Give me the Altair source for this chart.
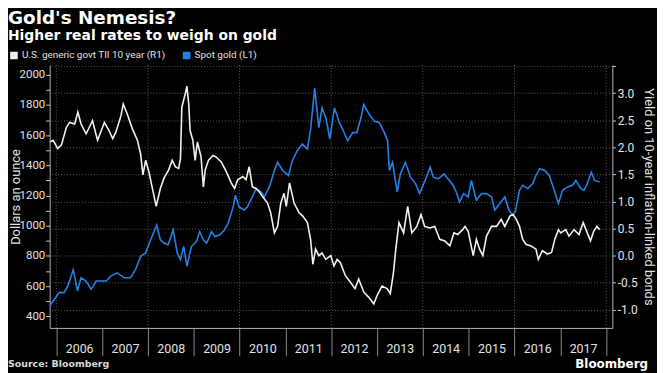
import altair as alt
import pandas as pd

TITLE = "Gold's Nemesis?"
SUBTITLE = "Higher real rates to weigh on gold"
SOURCE = "Source: Bloomberg"
BRAND = "Bloomberg"
SERIES = ["U.S. generic govt TII 10 year (R1)", "Spot gold (L1)"]
COLORS = ["#f2f2f2", "#2381e6"]
LEFT_TITLE = "Dollars an ounce"
RIGHT_TITLE = "Yield on 10-year inflation-linked bonds"

# Spot gold, USD/oz (decimal year, value)
gold_t = [2005.86, 2005.96, 2006.06, 2006.17, 2006.25, 2006.37, 2006.46, 2006.54, 2006.65, 2006.76,
          2006.87, 2006.98, 2007.09, 2007.19, 2007.33, 2007.48, 2007.62, 2007.73, 2007.84, 2007.95,
          2008.06, 2008.19, 2008.27, 2008.35, 2008.44, 2008.55, 2008.64, 2008.71, 2008.78, 2008.85,
          2008.95, 2009.06, 2009.13, 2009.21, 2009.28, 2009.39, 2009.46, 2009.57, 2009.67, 2009.75,
          2009.86, 2009.91, 2009.99, 2010.10, 2010.17, 2010.28, 2010.36, 2010.47, 2010.54, 2010.65,
          2010.76, 2010.83, 2010.94, 2011.07, 2011.15, 2011.26, 2011.37, 2011.48, 2011.55, 2011.64,
          2011.73, 2011.80, 2011.89, 2011.97, 2012.07, 2012.18, 2012.25, 2012.36, 2012.47, 2012.56,
          2012.65, 2012.71, 2012.83, 2012.94, 2013.05, 2013.16, 2013.23, 2013.27, 2013.34, 2013.44,
          2013.51, 2013.62, 2013.73, 2013.84, 2013.93, 2014.05, 2014.16, 2014.23, 2014.34, 2014.46,
          2014.55, 2014.66, 2014.73, 2014.80, 2014.89, 2014.99, 2015.06, 2015.17, 2015.28, 2015.39,
          2015.50, 2015.57, 2015.68, 2015.79, 2015.88, 2015.95, 2016.02, 2016.11, 2016.18, 2016.29,
          2016.40, 2016.47, 2016.55, 2016.66, 2016.76, 2016.87, 2016.96, 2017.05, 2017.16, 2017.27,
          2017.34, 2017.45, 2017.52, 2017.59, 2017.68, 2017.75, 2017.86]
gold_v = [470, 513, 557, 557, 600, 710, 568, 655, 634, 579,
          634, 634, 634, 666, 688, 655, 655, 710, 797, 820,
          907, 1005, 907, 885, 874, 972, 820, 776, 863, 732,
          863, 896, 961, 907, 885, 961, 929, 940, 972, 1016,
          1125, 1202, 1125, 1104, 1125, 1191, 1246, 1224, 1191, 1257,
          1366, 1420, 1366, 1333, 1431, 1497, 1541, 1508, 1639, 1912,
          1650, 1781, 1705, 1574, 1781, 1683, 1639, 1563, 1617, 1617,
          1715, 1803, 1738, 1694, 1683, 1617, 1563, 1366, 1420, 1224,
          1344, 1420, 1322, 1279, 1213, 1300, 1388, 1322, 1311, 1344,
          1311, 1268, 1224, 1158, 1213, 1191, 1300, 1169, 1213, 1213,
          1191, 1104, 1147, 1191, 1104, 1071, 1093, 1235, 1268, 1246,
          1279, 1333, 1377, 1366, 1333, 1235, 1147, 1235, 1257, 1268,
          1300, 1246, 1235, 1279, 1355, 1300, 1289]

# US generic govt TII 10 year, % (decimal year, value)
tii_t = [2005.86, 2005.93, 2006.03, 2006.11, 2006.22, 2006.29, 2006.40, 2006.47, 2006.54, 2006.65,
         2006.72, 2006.79, 2006.90, 2007.05, 2007.15, 2007.23, 2007.30, 2007.41, 2007.46, 2007.55,
         2007.66, 2007.77, 2007.84, 2007.89, 2007.95, 2008.02, 2008.09, 2008.18, 2008.27, 2008.35,
         2008.45, 2008.53, 2008.60, 2008.67, 2008.71, 2008.74, 2008.82, 2008.85, 2008.89, 2008.92,
         2008.98, 2009.03, 2009.08, 2009.16, 2009.21, 2009.25, 2009.32, 2009.42, 2009.49, 2009.60,
         2009.71, 2009.82, 2009.89, 2009.96, 2010.07, 2010.14, 2010.21, 2010.28, 2010.36, 2010.43,
         2010.50, 2010.61, 2010.68, 2010.76, 2010.83, 2010.90, 2010.97, 2011.02, 2011.09, 2011.19,
         2011.30, 2011.38, 2011.48, 2011.55, 2011.60, 2011.66, 2011.73, 2011.80, 2011.88, 2011.99,
         2012.06, 2012.13, 2012.20, 2012.31, 2012.42, 2012.52, 2012.60, 2012.71, 2012.82, 2012.93,
         2013.00, 2013.11, 2013.22, 2013.29, 2013.36, 2013.41, 2013.48, 2013.58, 2013.67, 2013.76,
         2013.87, 2013.96, 2014.04, 2014.15, 2014.26, 2014.37, 2014.48, 2014.59, 2014.68, 2014.76,
         2014.87, 2014.92, 2014.99, 2015.10, 2015.17, 2015.24, 2015.31, 2015.39, 2015.50, 2015.61,
         2015.71, 2015.79, 2015.90, 2015.97, 2016.04, 2016.11, 2016.18, 2016.25, 2016.36, 2016.47,
         2016.52, 2016.61, 2016.72, 2016.81, 2016.88, 2016.96, 2017.01, 2017.12, 2017.19, 2017.30,
         2017.41, 2017.50, 2017.59, 2017.66, 2017.73, 2017.80, 2017.86]
tii_v = [2.10, 2.13, 1.98, 2.04, 2.37, 2.46, 2.43, 2.65, 2.43, 2.25,
         2.37, 2.49, 2.13, 2.46, 2.31, 2.16, 2.28, 2.58, 2.80, 2.61,
         2.34, 2.13, 1.88, 1.49, 1.76, 1.55, 1.27, 0.91, 1.24, 1.43,
         1.58, 1.76, 1.64, 1.61, 1.79, 2.74, 3.01, 3.13, 2.80, 2.31,
         2.13, 1.76, 2.10, 1.82, 1.27, 1.58, 1.76, 1.85, 1.82, 1.73,
         1.55, 1.34, 1.24, 1.40, 1.46, 1.40, 1.64, 1.27, 1.24, 1.18,
         1.09, 0.97, 0.79, 0.42, 0.54, 0.97, 1.15, 0.91, 1.34, 0.97,
         0.79, 0.73, 0.61, 0.30, -0.16, 0.12, 0.00, 0.05, -0.07, 0.00,
         -0.19, -0.07, -0.13, -0.37, -0.49, -0.61, -0.43, -0.67, -0.77, -0.89,
         -0.74, -0.56, -0.61, -0.70, -0.31, 0.12, 0.61, 0.42, 0.91, 0.42,
         0.54, 0.76, 0.54, 0.51, 0.54, 0.30, 0.27, 0.18, 0.42, 0.39,
         0.48, 0.54, 0.45, 0.00, 0.30, 0.12, 0.00, 0.36, 0.54, 0.54,
         0.67, 0.54, 0.73, 0.76, 0.67, 0.54, 0.30, 0.21, 0.18, 0.12,
         -0.07, 0.09, 0.03, 0.06, 0.30, 0.48, 0.42, 0.48, 0.36, 0.48,
         0.39, 0.61, 0.42, 0.27, 0.45, 0.54, 0.48]

YEAR_TICKS = list(range(2006, 2019))
GRID_YEARS = [2006, 2008, 2010, 2012, 2014, 2016, 2018]
LEFT_TICKS = list(range(400, 2001, 100))
RIGHT_TICKS = [-1.0, -0.5, 0.0, 0.5, 1.0, 1.5, 2.0, 2.5, 3.0, 3.5]

W, H = 567, 265
FONT = "Roboto"
BOLD_FONT = "DejaVu Sans"
LABEL_COLOR = "#e2e2e2"
AXIS_COLOR = "#b0b0b0"
GRID_COLOR = "#5c5c5c"

gold_df = pd.DataFrame({"t": gold_t, "v": gold_v, "s": SERIES[1]})
tii_df = pd.DataFrame({"t": tii_t, "v": tii_v, "s": SERIES[0]})

x_enc = alt.X(
    "t:Q",
    scale=alt.Scale(domain=[2005.855, 2018.137], nice=False, zero=False),
    axis=alt.Axis(
        values=YEAR_TICKS, format="d",
        labelExpr="datum.value < 2018 ? datum.label : ''",
        labelOffset=23, labelFlush=False, labelOverlap=False, labelBound=False,
        tickSize=28, labelPadding=-13, labelBaseline="top",
        grid=False, domainColor=AXIS_COLOR, tickColor="#8a8a8a",
        labelColor=LABEL_COLOR, labelFont=FONT, labelFontSize=12.5, title=None,
    ),
)

color_enc = alt.Color(
    "s:N",
    scale=alt.Scale(domain=SERIES, range=COLORS),
    legend=alt.Legend(
        orient="none", legendX=-41, legendY=-15, direction="horizontal", title=None,
        symbolType="square", symbolSize=16, symbolStrokeWidth=3.6,
        labelFont=FONT, labelFontSize=10, labelColor=LABEL_COLOR,
        columnPadding=11, labelOffset=3,
    ),
)

grid = alt.Chart(pd.DataFrame({"t": GRID_YEARS})).mark_rule(
    color=GRID_COLOR, strokeDash=[1, 2], strokeWidth=1
).encode(x=x_enc)

gold_line = alt.Chart(gold_df).mark_line(strokeWidth=1.6).encode(
    x=x_enc,
    y=alt.Y(
        "v:Q",
        scale=alt.Scale(domain=[323, 2065], nice=False, zero=False),
        axis=alt.Axis(
            orient="left", values=LEFT_TICKS, format="d",
            labelExpr="datum.value % 200 == 0 ? datum.label : ''",
            tickSize=4, labelPadding=1, grid=False,
            domainColor=AXIS_COLOR, tickColor="#cfcfcf",
            labelColor=LABEL_COLOR, labelFont=FONT, labelFontSize=11.5,
            title=LEFT_TITLE, titleX=-30, titleY=H / 2, titleAngle=270,
            titleBaseline="alphabetic", titleAlign="center",
            titleFont=FONT, titleFontSize=13, titleFontWeight="normal", titleColor=LABEL_COLOR,
        ),
    ),
    color=color_enc,
)

tii_line = alt.Chart(tii_df).mark_line(strokeWidth=1.6).encode(
    x=x_enc,
    y=alt.Y(
        "v:Q",
        scale=alt.Scale(domain=[-1.335, 3.52], nice=False, zero=False),
        axis=alt.Axis(
            orient="right", values=RIGHT_TICKS, format=".1f",
            labelExpr="datum.value > 3.2 ? '' : replace(datum.label, '\u2212', '-')",
            tickSize=3, labelPadding=2,
            grid=True, gridColor=GRID_COLOR, gridDash=[1, 2], gridWidth=1,
            domainColor=AXIS_COLOR, tickColor="#cfcfcf",
            labelColor=LABEL_COLOR, labelFont=FONT, labelFontSize=12,
            title=RIGHT_TITLE, titleX=32, titleY=H / 2, titleAngle=90,
            titleBaseline="alphabetic", titleAlign="center",
            titleFont=FONT, titleFontSize=13, titleFontWeight="normal", titleColor=LABEL_COLOR,
        ),
    ),
    color=color_enc,
)


def text_layer(txt, x, y, size, align="left", color="white"):
    return alt.Chart(pd.DataFrame({"txt": [txt]})).mark_text(
        align=align, baseline="alphabetic", font=BOLD_FONT, fontSize=size,
        fontWeight="bold", color=color,
    ).encode(text="txt:N", x=alt.value(x), y=alt.value(y))


title = text_layer(TITLE, -42, -41, 18.5)
subtitle = text_layer(SUBTITLE, -42, -25.5, 14)
source = text_layer(SOURCE, -42, 304, 9.5, color="#d8d8d8")
brand = text_layer(BRAND, 603, 305, 12, align="right")

chart = alt.layer(grid, gold_line, tii_line, title, subtitle, source, brand).resolve_scale(
    y="independent"
).properties(
    width=W, height=H,
    autosize=alt.AutoSizeParams(type="none"),
    padding={"left": 42, "top": 56, "right": 45, "bottom": 44},
    background="black",
).configure_view(stroke=None)

chart.save("out.html", embed_options={"renderer": "svg", "actions": False})
